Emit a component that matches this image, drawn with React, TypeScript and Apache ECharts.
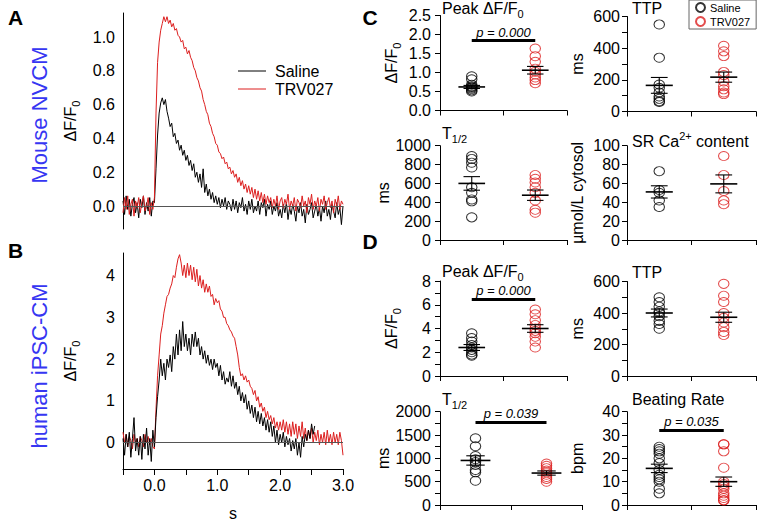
import React, { useEffect, useRef } from 'react';
import * as echarts from 'echarts';

const FONT = "'Liberation Sans', Arial, Helvetica, sans-serif";
const BLUE = '#3636f2';
const RED = '#dc1f1f';
const BLACK = '#000000';

// ---- time base of the traces (s) ----
const T_START = -0.5;
const T_STEP = 0.025;

// ---- A: mouse NVCM transients (ΔF/F0) ----
const mouseSaline = [
  0.03, -0.05, 0.06, -0.02, 0.04, -0.06, 0.01, 0.05, -0.04, 0.02, -0.07, 0.04, -0.01, 0.06, -0.05, 0.02, -0.03, 0.05, -0.06, 0.03,
  0.02, 0.22, 0.42, 0.55, 0.61, 0.64, 0.60, 0.63, 0.56, 0.52, 0.47, 0.49, 0.41, 0.43, 0.37, 0.39, 0.33, 0.36, 0.30, 0.33,
  0.27, 0.30, 0.24, 0.27, 0.21, 0.25, 0.17, 0.20, 0.14, 0.19, 0.11, 0.22, 0.08, 0.13, 0.06, 0.10, 0.04, 0.08, 0.02, 0.06,
  0.01, 0.05, -0.01, 0.04, 0.00, 0.05, -0.02, 0.03,
  0.01, -0.03, 0.04, -0.02, 0.03, -0.04, 0.02, -0.01, 0.05, -0.03, 0.01, -0.05, 0.03, -0.02, 0.04, -0.04, 0.00, -0.03, 0.03, -0.05,
  0.02, -0.01, 0.04, -0.06, 0.01, -0.02, 0.03, -0.05, 0.00, -0.03, 0.02, -0.06,
  -0.02, -0.07, 0.01, -0.04, 0.02, -0.08, -0.01, -0.05, 0.01, -0.03, -0.09, 0.00, -0.04, 0.02, -0.06, -0.02, -0.10, 0.01, -0.05, -0.02,
  0.02, -0.07, -0.03, 0.01, -0.06, -0.01, -0.09, 0.00, -0.04, 0.03, -0.06, -0.02, -0.08, 0.01, -0.03, -0.07, 0.02, -0.05, -0.01, -0.11, 0.00,
];
const mouseTRV027 = [
  -0.04, 0.05, -0.02, 0.06, -0.05, 0.01, 0.04, -0.06, 0.03, -0.01, 0.05, -0.04, 0.02, 0.06, -0.03, 0.00, 0.05, -0.05, 0.02, -0.02,
  0.05, 0.55, 0.85, 0.97, 1.04, 1.08, 1.12, 1.09, 1.12, 1.08, 1.10, 1.06, 1.08, 1.04, 1.05, 1.01, 1.00, 0.97, 0.98, 0.93,
  0.94, 0.90, 0.92, 0.88, 0.86, 0.82, 0.80, 0.76, 0.74, 0.70, 0.68, 0.63, 0.60, 0.56, 0.54, 0.49, 0.47, 0.43, 0.41, 0.37,
  0.36, 0.32, 0.31, 0.28, 0.29, 0.25, 0.26, 0.22, 0.23, 0.19, 0.21, 0.17, 0.19, 0.14, 0.17, 0.12, 0.15, 0.10, 0.13, 0.08,
  0.12, 0.07, 0.11, 0.05, 0.10, 0.04, 0.09, 0.03, 0.08, 0.02, 0.07, 0.01, 0.06,
  0.02, 0.05, -0.01, 0.04, 0.00, 0.06, -0.02, 0.03, 0.05, -0.01, 0.04, 0.01, 0.07, -0.02, 0.03, 0.00, 0.05, -0.03, 0.04, 0.02,
  -0.01, 0.06, 0.00, 0.03, -0.04, 0.05, 0.01, 0.07, -0.02, 0.03, 0.00, 0.05, -0.03, 0.04, 0.01, 0.06, -0.02, 0.02, 0.05, -0.01,
  0.03, -0.04, 0.04, 0.00, 0.06, -0.02, 0.03, 0.01,
];

// ---- B: human iPSC-CM transients (ΔF/F0) ----
const humanSaline = [
  0.1, -0.3, 0.2, -0.1, 0.25, -0.35, 0.1, 0.6, -0.2, 0.1, -0.3, 0.15, -0.4, 0.2, -0.15, 0.35, -0.3, 0.1, -0.45, 0.3,
  -0.1, 0.6, 1.1, 1.5, 2.0, 1.6, 1.9, 1.5, 2.0, 1.8, 2.1, 1.7, 2.3, 2.0, 2.6, 2.1, 2.7, 2.2, 2.9, 2.3,
  2.6, 2.2, 2.5, 2.1, 2.6, 2.3, 2.65, 2.3, 2.5, 2.1, 2.3, 2.0, 2.2, 1.9, 2.1, 1.85, 2.0, 1.75, 2.0, 1.8,
  1.9, 1.6, 1.85, 1.5, 1.7, 1.4, 1.55, 1.45, 1.7, 1.35, 1.6, 1.3, 1.45, 1.15, 1.35, 1.0, 1.2, 0.95, 1.15, 0.8,
  1.0, 0.7, 0.9, 0.6, 0.85, 0.5, 0.75, 0.45, 0.7, 0.4, 0.6, 0.3, 0.55, 0.25, 0.5, 0.15, 0.4, 0.0, 0.3, -0.05,
  0.2, 0.0, 0.25, -0.1, 0.15, -0.05, 0.1, -0.2, 0.05, -0.15, 0.1, -0.3, 0.0, -0.35, 0.15, -0.1, 0.2, 0.05, 0.3, 0.1,
  0.45, 0.2, 0.4,
];
const humanTRV027 = [
  0.25, 0.0, 0.2, -0.1, 0.15, 0.05, -0.15, 0.2, 0.0, 0.1, -0.1, 0.15, 0.05, -0.1, 0.2, 0.0, 0.15, -0.05, 0.1, -0.1,
  -0.15, 0.8, 1.6, 2.1, 2.6, 2.8, 3.1, 3.3, 3.5, 3.55, 3.7, 3.8, 4.0, 3.95, 4.2, 4.4, 4.5, 4.3, 4.0, 4.25,
  3.95, 4.3, 4.0, 4.25, 3.9, 4.2, 3.85, 4.15, 3.75, 4.0, 3.7, 3.9, 3.6, 3.8, 3.6, 3.75, 3.5, 3.55, 3.3, 3.45,
  3.35, 3.4, 3.2, 3.15, 3.0, 3.0, 2.85, 2.8, 2.7, 2.65, 2.55, 2.5, 2.3, 2.1, 1.8, 1.6, 1.65, 1.5, 1.6, 1.45,
  1.5, 1.35, 1.3, 1.15, 1.25, 1.0, 1.1, 0.85, 0.95, 0.75, 0.85, 0.6, 0.75, 0.55, 0.65, 0.45, 0.6, 0.35, 0.5, 0.3,
  0.5, 0.3, 0.55, 0.25, 0.5, 0.2, 0.45, 0.15, 0.5, 0.2, 0.45, 0.1, 0.4, 0.15, 0.5, 0.1, 0.35, 0.05, 0.3, 0.1,
  0.35, 0.0, 0.25, 0.05, 0.3, -0.05, 0.2, 0.0, 0.25, -0.05, 0.3, 0.0, 0.2, -0.05, 0.25, 0.0, 0.2, -0.05, 0.25, 0.05,
  -0.3,
];

// ---- tick values ----
const mouseYTicks = [0, 0.2, 0.4, 0.6, 0.8, 1.0];
const humanYTicks = [0, 1, 2, 3, 4];
const timeTicks = [-0.5, 0, 0.5, 1, 1.5, 2, 2.5, 3];
const timeLabels = [0, 1, 2, 3];

const groups = ['Saline', 'TRV027'];

// ---- C: mouse NVCM summary ----
const cPeakSaline = [0.9, 0.82, 0.68, 0.64, 0.62, 0.6, 0.57, 0.53, 0.5];
const cPeakTRV027 = [1.63, 1.43, 1.28, 1.1, 1.02, 0.95, 0.87, 0.8, 0.72];
const cPeakMean = [0.62, 1.06];
const cPeakSem = [0.04, 0.1];

const cTtpSaline = [550, 340, 170, 150, 120, 95, 80, 65, 60];
const cTtpTRV027 = [415, 380, 350, 250, 230, 190, 160, 140, 120, 110];
const cTtpMean = [165, 217];
const cTtpSem = [50, 32];

const cHalfSaline = [890, 860, 820, 770, 560, 500, 430, 410, 240];
const cHalfTRV027 = [690, 650, 610, 560, 500, 420, 320, 290];
const cHalfMean = [600, 475];
const cHalfSem = [72, 55];

const cSrSaline = [73, 53, 50, 42, 35];
const cSrTRV027 = [89, 69, 52, 42, 38];
const cSrMean = [51, 59.5];
const cSrSem = [6.5, 9.5];

// ---- D: human iPSC-CM summary ----
const dPeakSaline = [3.6, 3.2, 2.9, 2.6, 2.4, 2.2, 2.0, 1.8, 1.7];
const dPeakTRV027 = [5.6, 5.2, 4.7, 4.3, 4.0, 3.8, 3.6, 3.3, 2.9, 2.4];
const dPeakMean = [2.4, 4.0];
const dPeakSem = [0.25, 0.32];

const dTtpSaline = [500, 470, 440, 410, 400, 380, 350, 330, 300];
const dTtpTRV027 = [585, 510, 470, 400, 370, 340, 310, 280, 260];
const dTtpMean = [400, 373];
const dTtpSem = [25, 32];

const dHalfSaline = [1430, 1260, 1050, 980, 920, 860, 750, 700, 520];
const dHalfTRV027 = [890, 840, 790, 740, 700, 650, 600, 560, 500];
const dHalfMean = [955, 685];
const dHalfSem = [100, 45];

const dRateSaline = [25, 24, 23, 22, 20, 18, 15, 13, 12, 11, 10, 7, 5];
const dRateTRV027 = [26, 26, 23, 16, 10, 9, 8, 7, 5, 4, 3, 2, 2];
const dRateMean = [15.7, 10];
const dRateSem = [1.8, 2];

// p-values: text and bar height (data units)
const pLabels = ['0.000', '0.000', '0.039', '0.035'];
const pLevels = [1.84, 6.48, 1779, 32.2];

const RICH = {
  a: { fontSize: 16, fontFamily: FONT, color: BLACK, lineHeight: 22 },
  s: { fontSize: 11, fontFamily: FONT, color: BLACK, lineHeight: 11, verticalAlign: 'bottom' },
  p: { fontSize: 11, fontFamily: FONT, color: BLACK, lineHeight: 11, verticalAlign: 'top' },
};

const toXY = (vals: number[]) => vals.map((v, i) => [+(T_START + i * T_STEP).toFixed(3), v]);

type Panel = {
  grid: { left: number; top: number; width: number; height: number };
  sal: number[]; trv: number[]; mean: number[]; sem: number[];
  max: number; interval: number; minor: boolean; dec: number;
  yName: string; nameGap: number; labelMargin: number;
  title: string; titleLeft: number; titleTop: number;
  p?: number;
};

const panels: Panel[] = [
  { grid: { left: 440, top: 15.5, width: 127, height: 95 }, sal: cPeakSaline, trv: cPeakTRV027, mean: cPeakMean, sem: cPeakSem,
    max: 2.5, interval: 0.5, minor: false, dec: 1, yName: '{a|ΔF/F}{s|0}', nameGap: 38, labelMargin: 9,
    title: '{a|Peak ΔF/F}{s|0}', titleLeft: 442, titleTop: -3, p: 0 },
  { grid: { left: 627, top: 16.5, width: 129, height: 95 }, sal: cTtpSaline, trv: cTtpTRV027, mean: cTtpMean, sem: cTtpSem,
    max: 600, interval: 200, minor: true, dec: 0, yName: 'ms', nameGap: 42, labelMargin: 7,
    title: '{a|TTP}', titleLeft: 632, titleTop: -3 },
  { grid: { left: 440, top: 145.7, width: 127, height: 94.3 }, sal: cHalfSaline, trv: cHalfTRV027, mean: cHalfMean, sem: cHalfSem,
    max: 1000, interval: 200, minor: false, dec: 0, yName: 'ms', nameGap: 45, labelMargin: 9,
    title: '{a|T}{s|1/2}', titleLeft: 442, titleTop: 122 },
  { grid: { left: 627, top: 145.7, width: 129, height: 94.3 }, sal: cSrSaline, trv: cSrTRV027, mean: cSrMean, sem: cSrSem,
    max: 100, interval: 20, minor: false, dec: 0, yName: 'µmol/L cytosol', nameGap: 42, labelMargin: 7,
    title: '{a|SR Ca}{p|2+}{a| content}', titleLeft: 632, titleTop: 130 },
  { grid: { left: 440, top: 281, width: 127, height: 95 }, sal: dPeakSaline, trv: dPeakTRV027, mean: dPeakMean, sem: dPeakSem,
    max: 8, interval: 2, minor: true, dec: 0, yName: '{a|ΔF/F}{s|0}', nameGap: 38, labelMargin: 9,
    title: '{a|Peak ΔF/F}{s|0}', titleLeft: 442, titleTop: 260, p: 1 },
  { grid: { left: 627, top: 281.5, width: 129, height: 94.5 }, sal: dTtpSaline, trv: dTtpTRV027, mean: dTtpMean, sem: dTtpSem,
    max: 600, interval: 200, minor: true, dec: 0, yName: 'ms', nameGap: 42, labelMargin: 7,
    title: '{a|TTP}', titleLeft: 632, titleTop: 261 },
  { grid: { left: 440, top: 411.7, width: 142, height: 93.3 }, sal: dHalfSaline, trv: dHalfTRV027, mean: dHalfMean, sem: dHalfSem,
    max: 2000, interval: 500, minor: true, dec: 0, yName: 'ms', nameGap: 45, labelMargin: 9,
    title: '{a|T}{s|1/2}', titleLeft: 442, titleTop: 388, p: 2 },
  { grid: { left: 627, top: 411.7, width: 129, height: 93.3 }, sal: dRateSaline, trv: dRateTRV027, mean: dRateMean, sem: dRateSem,
    max: 40, interval: 10, minor: true, dec: 0, yName: 'bpm', nameGap: 42, labelMargin: 7,
    title: '{a|Beating Rate}', titleLeft: 632, titleTop: 388, p: 3 },
];

const renderMeanSem = (params: any, api: any) => {
  const x = api.value(0);
  const m = api.value(1);
  const s = api.value(2);
  const c = api.coord([x, m]);
  const top = api.coord([x, m + s]);
  const bot = api.coord([x, m - s]);
  const band = api.size([1, 0])[0];
  const hw = band * 0.21;
  const cw = band * 0.13;
  const st = { stroke: BLACK, lineWidth: 1.1 };
  return {
    type: 'group',
    children: [
      { type: 'line', shape: { x1: c[0] - hw, y1: c[1], x2: c[0] + hw, y2: c[1] }, style: { stroke: BLACK, lineWidth: 1.6 } },
      { type: 'line', shape: { x1: top[0], y1: top[1], x2: bot[0], y2: bot[1] }, style: st },
      { type: 'line', shape: { x1: top[0] - cw, y1: top[1], x2: top[0] + cw, y2: top[1] }, style: st },
      { type: 'line', shape: { x1: bot[0] - cw, y1: bot[1], x2: bot[0] + cw, y2: bot[1] }, style: st },
    ],
  };
};

function buildOption() {
  const grids: any[] = [
    { left: 123, top: 13, width: 220, height: 216 },
    { left: 123, top: 253, width: 220, height: 218 },
    ...panels.map((p) => ({ ...p.grid })),
  ];

  const xAxes: any[] = [
    { type: 'value', gridIndex: 0, min: -0.5, max: 3, show: false },
    {
      type: 'value', gridIndex: 1, min: -0.5, max: 3,
      axisLine: { show: true, onZero: false, lineStyle: { color: BLACK, width: 1 } },
      axisTick: { show: true, length: 6, customValues: timeTicks, lineStyle: { color: BLACK } },
      axisLabel: { show: true, customValues: timeLabels, formatter: (v: number) => v.toFixed(1), fontSize: 16, color: BLACK, fontFamily: FONT, margin: 8 },
      splitLine: { show: false },
      name: 's', nameLocation: 'middle', nameGap: 36, nameTextStyle: { fontSize: 16, color: BLACK, fontFamily: FONT },
    },
  ];
  const yAxes: any[] = [
    {
      type: 'value', gridIndex: 0, min: -0.136, max: 1.142,
      axisLine: { show: true, onZero: false, lineStyle: { color: BLACK, width: 1 } },
      axisTick: { show: false },
      axisLabel: { customValues: mouseYTicks, formatter: (v: number) => v.toFixed(1), fontSize: 16, color: BLACK, fontFamily: FONT, margin: 8 },
      splitLine: { show: false },
      name: '{a|ΔF/F}{s|0}', nameLocation: 'middle', nameRotate: 90, nameGap: 42, nameTextStyle: { rich: RICH },
    },
    {
      type: 'value', gridIndex: 1, min: -0.63, max: 4.54,
      axisLine: { show: true, onZero: false, lineStyle: { color: BLACK, width: 1 } },
      axisTick: { show: false },
      axisLabel: { customValues: humanYTicks, formatter: (v: number) => String(v), fontSize: 16, color: BLACK, fontFamily: FONT, margin: 8 },
      splitLine: { show: false },
      name: '{a|ΔF/F}{s|0}', nameLocation: 'middle', nameRotate: 90, nameGap: 42, nameTextStyle: { rich: RICH },
    },
  ];

  const series: any[] = [
    // zero lines
    { type: 'line', xAxisIndex: 0, yAxisIndex: 0, data: [], silent: true,
      markLine: { silent: true, symbol: ['none', 'none'], label: { show: false }, lineStyle: { color: '#555', width: 1, type: 'solid' }, data: [{ yAxis: 0 }] } },
    { type: 'line', xAxisIndex: 1, yAxisIndex: 1, data: [], silent: true,
      markLine: { silent: true, symbol: ['none', 'none'], label: { show: false }, lineStyle: { color: '#555', width: 1, type: 'solid' }, data: [{ yAxis: 0 }] } },
    { type: 'line', name: 'A Saline', xAxisIndex: 0, yAxisIndex: 0, data: toXY(mouseSaline), symbol: 'none', silent: true, lineStyle: { color: BLACK, width: 1 } },
    { type: 'line', name: 'A TRV027', xAxisIndex: 0, yAxisIndex: 0, data: toXY(mouseTRV027), symbol: 'none', silent: true, lineStyle: { color: RED, width: 1 } },
    { type: 'line', name: 'B TRV027', xAxisIndex: 1, yAxisIndex: 1, data: toXY(humanTRV027), symbol: 'none', silent: true, lineStyle: { color: RED, width: 1 } },
    { type: 'line', name: 'B Saline', xAxisIndex: 1, yAxisIndex: 1, data: toXY(humanSaline), symbol: 'none', silent: true, lineStyle: { color: BLACK, width: 1 } },
  ];

  const titles: any[] = [];

  panels.forEach((p, k) => {
    const gi = k + 2;
    xAxes.push({
      type: 'category', gridIndex: gi, data: groups, boundaryGap: true,
      axisLine: { show: true, onZero: false, lineStyle: { color: BLACK, width: 1 } },
      axisTick: { show: true, length: 5, alignWithLabel: false, lineStyle: { color: BLACK } },
      axisLabel: { show: false }, splitLine: { show: false },
    });
    yAxes.push({
      type: 'value', gridIndex: gi, min: 0, max: p.max, interval: p.interval,
      axisLine: { show: true, onZero: false, lineStyle: { color: BLACK, width: 1 } },
      axisTick: { show: true, length: 5, lineStyle: { color: BLACK } },
      minorTick: { show: p.minor, splitNumber: 2, length: 5, lineStyle: { color: BLACK } },
      axisLabel: { fontSize: 16, color: BLACK, fontFamily: FONT, margin: p.labelMargin, formatter: (v: number) => v.toFixed(p.dec) },
      splitLine: { show: false }, minorSplitLine: { show: false },
      name: p.yName, nameLocation: 'middle', nameRotate: 90, nameGap: p.nameGap,
      nameTextStyle: { fontSize: 16, color: BLACK, fontFamily: FONT, rich: RICH },
    });
    const sal: any = {
      type: 'scatter', name: 'Saline', xAxisIndex: gi, yAxisIndex: gi,
      data: p.sal.map((v) => [0, v]), symbol: 'circle', symbolSize: [10.5, 9], silent: true,
      itemStyle: { color: 'rgba(0,0,0,0)', borderColor: BLACK, borderWidth: 1 },
    };
    if (p.p !== undefined) {
      sal.markLine = {
        silent: true, symbol: ['none', 'none'],
        lineStyle: { color: BLACK, width: 3, type: 'solid' },
        label: { show: true, position: 'middle', formatter: 'p = ' + pLabels[p.p], fontStyle: 'italic', fontSize: 13, color: BLACK, fontFamily: FONT, distance: 2 },
        data: [[{ coord: [0, pLevels[p.p]] }, { coord: [1, pLevels[p.p]] }]],
      };
    }
    series.push(sal);
    series.push({
      type: 'scatter', name: 'TRV027', xAxisIndex: gi, yAxisIndex: gi,
      data: p.trv.map((v) => [1, v]), symbol: 'circle', symbolSize: [10.5, 9], silent: true,
      itemStyle: { color: 'rgba(0,0,0,0)', borderColor: RED, borderWidth: 1 },
    });
    series.push({
      type: 'custom', xAxisIndex: gi, yAxisIndex: gi, silent: true, z: 5,
      data: [0, 1].map((i) => [i, p.mean[i], p.sem[i]]),
      encode: { x: 0, y: 1 },
      renderItem: renderMeanSem,
    });
    titles.push({ text: p.title, left: p.titleLeft, top: p.titleTop, padding: 0, textStyle: { fontSize: 16, fontWeight: 'normal', color: BLACK, fontFamily: FONT, rich: RICH } });
  });

  const label = (text: string, x: number, y: number) => ({
    type: 'text', x, y, silent: true,
    style: { text, fontSize: 21, fontWeight: 'bold', fontFamily: FONT, fill: BLACK, align: 'center', verticalAlign: 'middle' },
  });

  const graphic: any[] = [
    label('A', 15.5, 17.5),
    label('B', 15.5, 250.5),
    label('C', 370, 17),
    label('D', 370, 241),
    { type: 'text', x: 39, y: 115, rotation: Math.PI / 2, silent: true,
      style: { text: 'Mouse NVCM', fontSize: 22, fontFamily: FONT, fill: BLUE, align: 'center', verticalAlign: 'middle' } },
    { type: 'text', x: 39, y: 366, rotation: Math.PI / 2, silent: true,
      style: { text: 'human iPSC-CM', fontSize: 22, fontFamily: FONT, fill: BLUE, align: 'center', verticalAlign: 'middle' } },
    { type: 'line', silent: true, shape: { x1: 238, y1: 71, x2: 266, y2: 71 }, style: { stroke: BLACK, lineWidth: 1 } },
    { type: 'text', x: 275, y: 71, silent: true, style: { text: 'Saline', fontSize: 16, fontFamily: FONT, fill: BLACK, align: 'left', verticalAlign: 'middle' } },
    { type: 'line', silent: true, shape: { x1: 238, y1: 89, x2: 266, y2: 89 }, style: { stroke: RED, lineWidth: 1 } },
    { type: 'text', x: 275, y: 89, silent: true, style: { text: 'TRV027', fontSize: 16, fontFamily: FONT, fill: BLACK, align: 'left', verticalAlign: 'middle' } },
  ];

  return {
    animation: false,
    backgroundColor: '#ffffff',
    textStyle: { fontFamily: FONT, color: BLACK },
    title: titles,
    legend: {
      data: groups, orient: 'vertical', left: 689, top: 0, selectedMode: false,
      icon: 'circle', itemWidth: 9, itemHeight: 9, itemGap: 3,
      borderColor: '#666', borderWidth: 1, padding: [2, 6, 2, 6], backgroundColor: '#fff',
      textStyle: { fontSize: 11, color: BLACK, fontFamily: FONT },
    },
    grid: grids,
    xAxis: xAxes,
    yAxis: yAxes,
    series,
    graphic,
  };
}

export default function App() {
  const ref = useRef<HTMLDivElement>(null);
  useEffect(() => {
    if (!ref.current) return;
    const chart = echarts.init(ref.current, undefined, { renderer: 'svg' });
    chart.setOption(buildOption() as any);
    return () => chart.dispose();
  }, []);
  return <div ref={ref} style={{ position: 'fixed', left: 0, top: 0, width: 759, height: 522, background: '#fff' }} />;
}
